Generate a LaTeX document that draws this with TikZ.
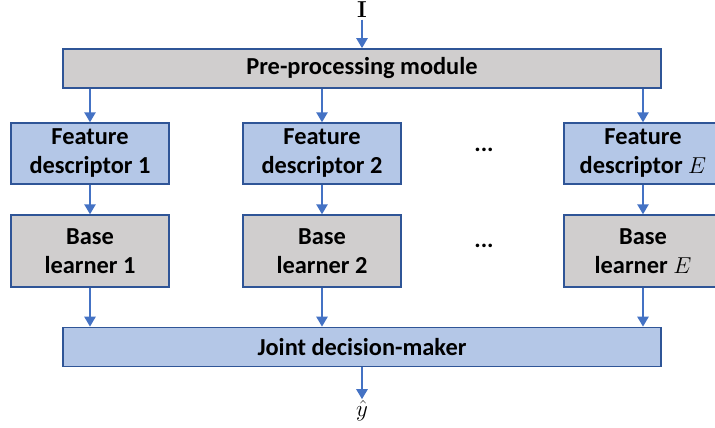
\documentclass[tikz,border=0pt]{standalone}
\usepackage[no-math]{fontspec}
\setmainfont{Carlito}
\usepackage{tikz}
\usetikzlibrary{arrows.meta}

\definecolor{boxblue}{HTML}{B4C7E7}
\definecolor{boxgray}{HTML}{D0CECE}
\definecolor{edgeblue}{HTML}{2F5597}
\definecolor{arrowblue}{HTML}{4472C4}

\begin{document}
\begin{tikzpicture}[x=0.75pt,y=-0.75pt,>={Triangle[length=7.5pt,width=8.5pt]},
  box/.style={draw=edgeblue,line width=1.1pt,align=center,inner sep=0pt,
    font=\fontsize{18.3}{21.75}\selectfont\bfseries},
  desc node/.style={box,fill=boxblue,minimum width=118.5pt,minimum height=45.75pt},
  learner node/.style={box,fill=boxgray,minimum width=118.5pt,minimum height=54pt},
  wide node/.style={box,minimum width=448.5pt,minimum height=29.5pt},
  dots node/.style={font=\fontsize{18}{20}\selectfont\bfseries},
  label node/.style={inner sep=1pt,font=\fontsize{18}{20}\selectfont},
  flow/.style={->,draw=arrowblue,line width=1.3pt}]
  \useasboundingbox (0,0) rectangle (715,428);

  \node[label node] (in) at (362,10) {$\mathbf{I}$};
  \node[wide node,fill=boxgray] (pre) at (362,68.5) {Pre-processing module};

  \node[desc node] (fd1) at (90,153.5) {Feature\\descriptor 1};
  \node[desc node] (fd2) at (322,153.5) {Feature\\descriptor 2};
  \node[desc node] (fdE) at (643,153.5) {Feature\\descriptor $E$};
  \node[dots node] (dots1) at (484,150) {...};

  \node[learner node] (bl1) at (90,251) {Base\\learner 1};
  \node[learner node] (bl2) at (322,251) {Base\\learner 2};
  \node[learner node] (blE) at (643,251) {Base\\learner $E$};
  \node[dots node] (dots2) at (484,246) {...};

  \node[wide node,fill=boxblue] (joint) at (362,347) {Joint decision-maker};
  \node[label node] (out) at (362,411) {$\hat{y}$};

  \draw[flow] (in) -- (pre);
  \draw[flow] (pre.south -| fd1) -- (fd1.north);
  \draw[flow] (pre.south -| fd2) -- (fd2.north);
  \draw[flow] (pre.south -| fdE) -- (fdE.north);
  \draw[flow] (fd1) -- (bl1);
  \draw[flow] (fd2) -- (bl2);
  \draw[flow] (fdE) -- (blE);
  \draw[flow] (bl1.south) -- (joint.north -| bl1);
  \draw[flow] (bl2.south) -- (joint.north -| bl2);
  \draw[flow] (blE.south) -- (joint.north -| blE);
  \draw[flow] (joint) -- (out);
\end{tikzpicture}
\end{document}
